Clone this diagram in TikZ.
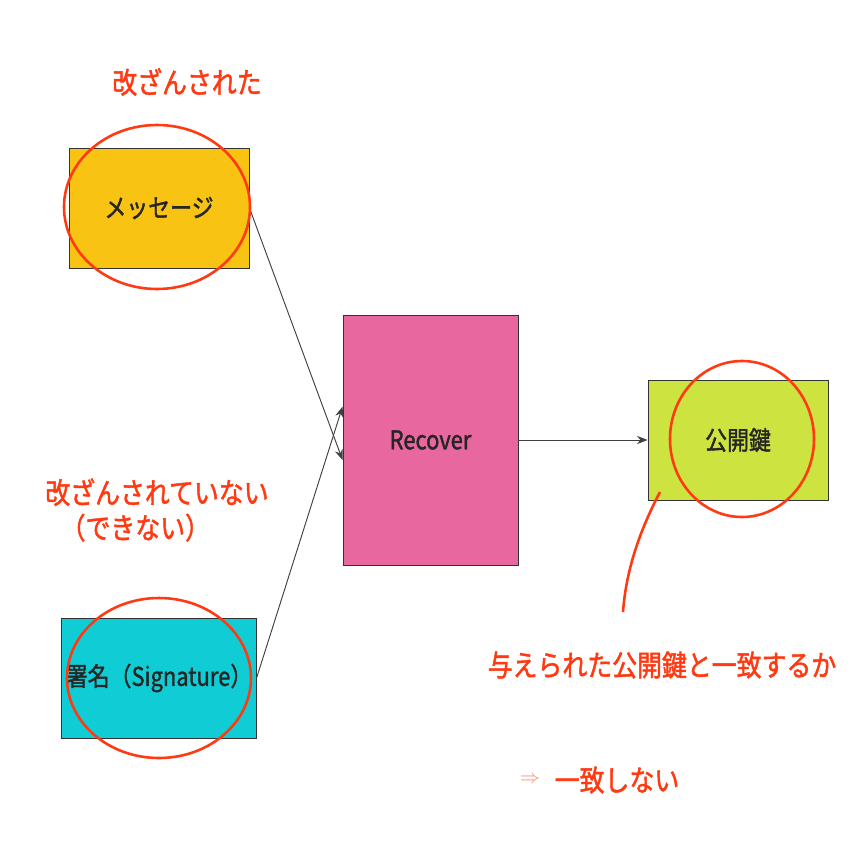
\documentclass[tikz,border=0pt]{standalone}
\usepackage{fontspec}
\newfontfamily\cjk[FakeStretch=0.85,FakeBold=1.5]{Noto Sans CJK JP}
\usetikzlibrary{arrows.meta}
\definecolor{cy}{HTML}{F8C313}
\definecolor{cc}{HTML}{10CDD5}
\definecolor{cp}{HTML}{E8679F}
\definecolor{cg}{HTML}{CCE340}
\definecolor{rd}{HTML}{FF3A12}
\begin{document}
\begin{tikzpicture}[x=0.03cm,y=-0.03cm,
 box/.style={draw=black!80,line width=0.8pt,font=\cjk\fontsize{22}{26}\selectfont,text=black!85},
 ring/.style={draw=rd,line width=2.2pt},
 lbl/.style={text=rd,font=\cjk\fontsize{25}{30}\selectfont,align=left},
 arr/.style={draw=black!75,line width=0.8pt,-{Stealth[length=9pt,width=7pt]}}]
\fill[white] (0,0) rectangle (868,868);
\node[box,fill=cy,minimum width=180*0.03cm,minimum height=120*0.03cm] (msg) at (159,208) {メッセージ};
\node[box,fill=cc,minimum width=180*0.03cm,minimum height=120*0.03cm] (sig) at (159,678) {署名（Signature）};
\node[box,fill=cp,minimum width=175*0.03cm,minimum height=250*0.03cm] (rec) at (430.5,440) {Recover};
\node[box,fill=cg,minimum width=180*0.03cm,minimum height=120*0.03cm] (key) at (738,440) {公開鍵};
\draw[arr] (msg.east) -- ([yshift=-0.6cm]rec.west);
\draw[arr] (sig.east) -- ([yshift=1cm]rec.west);
\draw[arr] (rec.east) -- (key.west);
\draw[ring] (157,207) ellipse (93 and 82);
\draw[ring] (159,678) ellipse (92 and 80);
\draw[ring] (742,439) ellipse (72 and 78);
\coordinate (t1) at (660,492);
\coordinate (t2) at (623,612);
\draw[ring] (t1) .. controls (640,530) and (626,570) .. (t2);
\node[lbl] (a) at (187,82) {改ざんされた};
\node[lbl,align=center] (b) at (157,510) {改ざんされていない\\（できない）\hspace*{1.3cm}};
\node[lbl] (c) at (662,665) {与えられた公開鍵と一致するか};
\node[text=rd!60,font=\fontsize{16}{20}\selectfont] (d) at (530,780) {$\Rightarrow$};
\node[lbl] (e) at (617,780) {一致しない};
\end{tikzpicture}
\end{document}
